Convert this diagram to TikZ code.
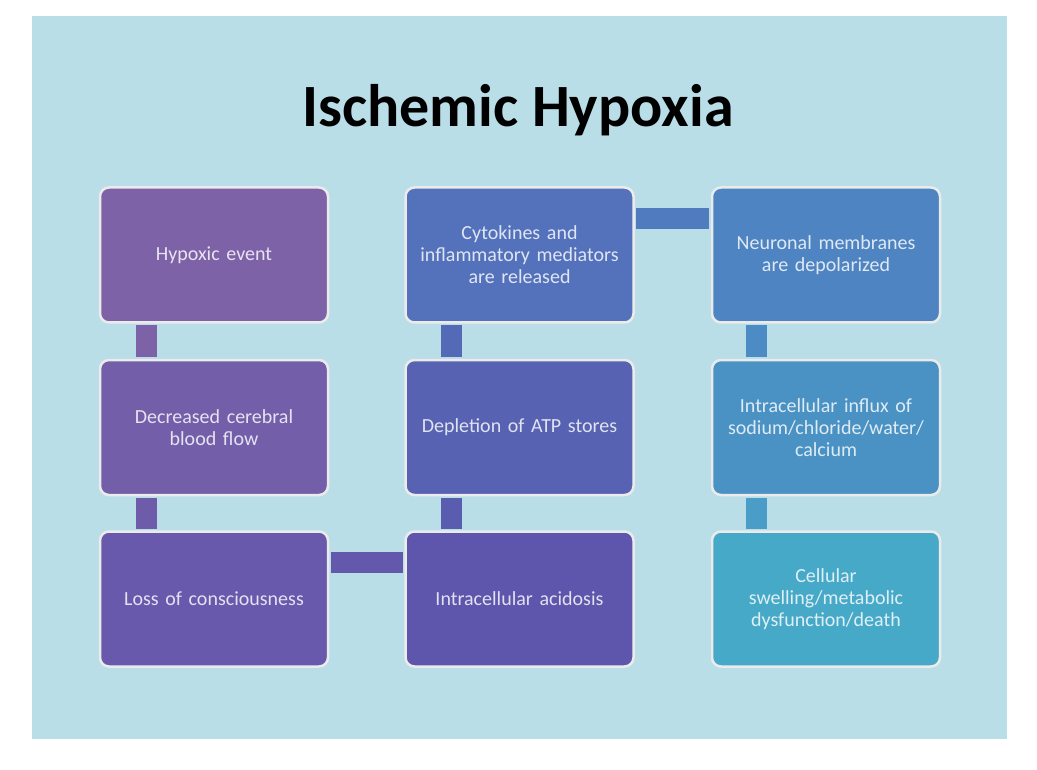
\documentclass[tikz,border=0pt]{standalone}
\usepackage{fontspec}
\setmainfont{Carlito}
\usetikzlibrary{calc}
\definecolor{bgc}{HTML}{B9DEE8}
\definecolor{cA}{HTML}{7E62A8}
\definecolor{cB}{HTML}{735EAA}
\definecolor{cC}{HTML}{6959AD}
\definecolor{cD}{HTML}{5D56AC}
\definecolor{cE}{HTML}{5762B2}
\definecolor{cF}{HTML}{5372BB}
\definecolor{cG}{HTML}{4E84C1}
\definecolor{cH}{HTML}{4A92C4}
\definecolor{cI}{HTML}{47A9C8}
\tikzset{
  stepbox/.style={draw=white!92!black, line width=2.5pt, rounded corners=9pt,
    minimum width=228pt, minimum height=135pt, text width=220pt, align=center,
    font=\fontsize{20}{22}\selectfont, inner sep=0pt},
  bar/.style={line width=21pt}
}
\begin{document}
\begin{tikzpicture}[x=1pt,y=-1pt]
\useasboundingbox (0,0) rectangle (1037,770);
\fill[white] (0,0) rectangle (1037,770);
\fill[bgc] (32,16) rectangle (1007,739);
\node[font=\fontsize{60}{66}\selectfont\bfseries, text=black] (title) at (518,110) {Ischemic Hypoxia};
\coordinate (n1) at (214,255);
\coordinate (n2) at (214,427.5);
\coordinate (n3) at (214,599);
\coordinate (n4) at (519.5,599);
\coordinate (n5) at (519.5,427.5);
\coordinate (n6) at (519.5,255);
\coordinate (n7) at (826,255);
\coordinate (n8) at (826,427.5);
\coordinate (n9) at (826,599);
\node[stepbox, fill=cA, text=white!82!cA] (b1) at (n1) {Hypoxic event};
\node[stepbox, fill=cB, text=white!82!cB] (b2) at (n2) {Decreased cerebral\\ blood flow};
\node[stepbox, fill=cC, text=white!82!cC] (b3) at (n3) {Loss of consciousness};
\node[stepbox, fill=cD, text=white!82!cD] (b4) at (n4) {Intracellular acidosis};
\node[stepbox, fill=cE, text=white!82!cE] (b5) at (n5) {Depletion of ATP stores};
\node[stepbox, fill=cF, text=white!82!cF] (b6) at (n6) {Cytokines and\\ inflammatory mediators\\ are released};
\node[stepbox, fill=cG, text=white!82!cG] (b7) at (n7) {Neuronal membranes\\ are depolarized};
\node[stepbox, fill=cH, text=white!82!cH] (b8) at (n8) {Intracellular influx of\\ sodium/chloride/water/\\ calcium};
\node[stepbox, fill=cI, text=white!82!cI] (b9) at (n9) {Cellular\\ swelling/metabolic\\ dysfunction/death};
\draw[bar, draw=cA!90!cB] ($(b1.south)+(-68,1.3)$) -- ($(b2.north)+(-68,-1.3)$);
\draw[bar, draw=cB!50!cC] ($(b2.south)+(-68,1.3)$) -- ($(b3.north)+(-68,-1.3)$);
\draw[bar, draw=cC!50!cD] ($(b3.east)+(1.3,-37)$) -- ($(b4.west)+(-1.3,-37)$);
\draw[bar, draw=cD!50!cE] ($(b4.north)+(-68,-1.3)$) -- ($(b5.south)+(-68,1.3)$);
\draw[bar, draw=cE!50!cF] ($(b5.north)+(-68,-1.3)$) -- ($(b6.south)+(-68,1.3)$);
\draw[bar, draw=cF!50!cG] ($(b6.east)+(1.3,-36)$) -- ($(b7.west)+(-1.3,-36)$);
\draw[bar, draw=cG!50!cH] ($(b7.south)+(-70,1.3)$) -- ($(b8.north)+(-70,-1.3)$);
\draw[bar, draw=cH!50!cI] ($(b8.south)+(-70,1.3)$) -- ($(b9.north)+(-70,-1.3)$);
\end{tikzpicture}
\end{document}
